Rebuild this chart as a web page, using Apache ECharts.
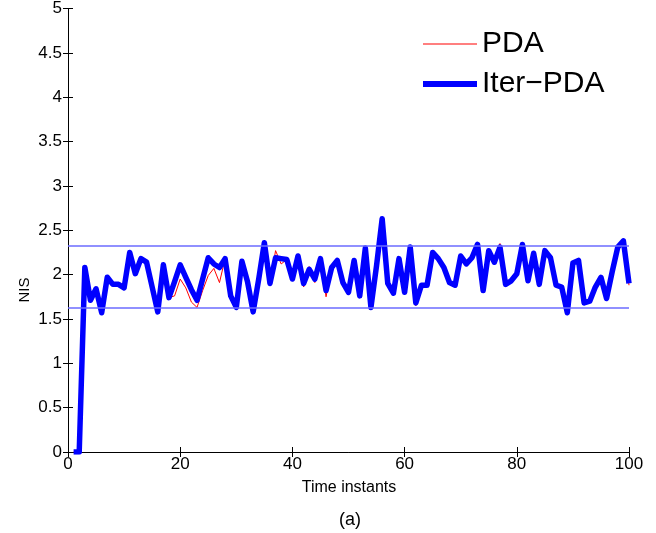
<!DOCTYPE html>
<html>
<head>
<meta charset="utf-8">
<script src="https://cdn.jsdelivr.net/npm/echarts@6/dist/echarts.min.js"></script>
<style>html,body{margin:0;padding:0;background:#fff;}#c{width:656px;height:533px;}</style>
</head>
<body>
<div id="c"></div>
<script>
const timeInstants = [1,2,3,4,5,6,7,8,9,10,11,12,13,14,15,16,17,18,19,20,21,22,23,24,25,26,27,28,29,30,31,32,33,34,35,36,37,38,39,40,41,42,43,44,45,46,47,48,49,50,51,52,53,54,55,56,57,58,59,60,61,62,63,64,65,66,67,68,69,70,71,72,73,74,75,76,77,78,79,80,81,82,83,84,85,86,87,88,89,90,91,92,93,94,95,96,97,98,99,100];
const iterPDA = [0,0,2.08,1.71,1.84,1.57,1.97,1.89,1.89,1.85,2.25,2.01,2.18,2.14,1.86,1.58,2.11,1.74,1.92,2.11,1.97,1.83,1.71,1.95,2.19,2.12,2.08,2.18,1.76,1.63,2.15,1.92,1.58,1.95,2.36,1.90,2.19,2.18,2.17,1.95,2.21,1.90,2.06,1.95,2.18,1.82,2.08,2.16,1.91,1.80,2.16,1.76,2.30,1.63,2.10,2.63,1.90,1.79,2.18,1.80,2.31,1.68,1.88,1.88,2.25,2.18,2.08,1.91,1.88,2.21,2.12,2.19,2.34,1.82,2.27,2.14,2.31,1.89,1.93,2.01,2.34,1.93,2.24,1.89,2.27,2.19,1.88,1.86,1.57,2.13,2.16,1.68,1.70,1.86,1.97,1.73,2.03,2.31,2.38,1.90];
const pda = [0,0,2.08,1.71,1.84,1.57,1.97,1.89,1.89,1.85,2.25,2.01,2.18,2.14,1.86,1.58,2.11,1.74,1.76,1.95,1.85,1.69,1.63,1.82,1.99,2.07,1.91,2.18,1.76,1.63,2.15,1.92,1.58,1.95,2.36,1.90,2.27,2.12,2.17,1.93,2.21,1.86,2.09,1.91,2.18,1.75,2.08,2.16,1.91,1.80,2.16,1.76,2.30,1.63,2.10,2.63,1.90,1.79,2.20,1.80,2.31,1.65,1.88,1.88,2.25,2.18,2.08,1.91,1.88,2.21,2.12,2.19,2.34,1.82,2.29,2.14,2.35,1.89,1.93,2.01,2.34,1.93,2.24,1.89,2.27,2.19,1.88,1.86,1.57,2.13,2.16,1.68,1.70,1.86,1.97,1.71,2.03,2.31,2.38,1.88];
const bounds = [1.63, 2.33];
const seriesNames = ['PDA', 'Iter\u2212PDA'];

const toPairs = (vals) => timeInstants.map((t, i) => [t, vals[i]]);
const font = 'Liberation Sans, Arial, Helvetica, sans-serif';
const chart = echarts.init(document.getElementById('c'), null, {renderer: 'canvas'});
const axisCommon = {
  axisLine: {show: true, lineStyle: {color: '#000', width: 1}},
  axisTick: {show: true, inside: true, length: 5, lineStyle: {color: '#000'}},
  splitLine: {show: false}
};
chart.setOption({
  animation: false,
  backgroundColor: '#fff',
  grid: {left: 68, right: 27, top: 7, bottom: 81, containLabel: false},
  legend: [
    {data: [seriesNames[0]], left: 418, top: 24, icon: 'rect', itemWidth: 54, itemHeight: 1, itemGap: 8,
     textStyle: {fontSize: 30, fontFamily: font, color: '#000', padding: [0,0,0,0]}, selectedMode: false},
    {data: [seriesNames[1]], left: 418, top: 64, icon: 'rect', itemWidth: 54, itemHeight: 6, itemGap: 8,
     textStyle: {fontSize: 30, fontFamily: font, color: '#000', padding: [0,0,0,0]}, selectedMode: false}
  ],
  xAxis: [
    Object.assign({type: 'value', min: 0, max: 100, interval: 20, position: 'bottom',
      axisLabel: {fontSize: 17, fontFamily: font, color: '#000', margin: 4}}, axisCommon),
    Object.assign({type: 'value', min: 0, max: 100, interval: 20, position: 'top',
      axisLabel: {show: false}}, axisCommon)
  ],
  yAxis: [
    Object.assign({type: 'value', min: 0, max: 5, interval: 0.5, position: 'left',
      axisLabel: {fontSize: 17, fontFamily: font, color: '#000', margin: 6}}, axisCommon),
    Object.assign({type: 'value', min: 0, max: 5, interval: 0.5, position: 'right',
      axisLabel: {show: false}}, axisCommon)
  ],
  graphic: [
    {type: 'text', x: 25, y: 290, rotation: Math.PI / 2,
     style: {text: 'NIS', font: '15px ' + font, fill: '#000', textAlign: 'center', textVerticalAlign: 'middle'}},
    {type: 'text', x: 349, y: 488,
     style: {text: 'Time instants', font: '16px ' + font, fill: '#000', textAlign: 'center', textVerticalAlign: 'middle'}},
    {type: 'text', x: 350, y: 520,
     style: {text: '(a)', font: '18px ' + font, fill: '#000', textAlign: 'center', textVerticalAlign: 'middle'}}
  ],
  series: [
    {name: seriesNames[0], type: 'line', data: toPairs(pda), showSymbol: false, symbol: 'none', z: 3,
     itemStyle: {color: '#ff0000'}, lineStyle: {color: '#ff0000', width: 1},
     markLine: {silent: true, symbol: 'none', label: {show: false}, animation: false,
       lineStyle: {color: '#6b6bff', width: 1.5, type: 'solid'},
       data: bounds.map(b => ({yAxis: b}))}},
    {name: seriesNames[1], type: 'line', data: toPairs(iterPDA), showSymbol: false, symbol: 'none', z: 4,
     itemStyle: {color: '#0000ff'}, lineStyle: {color: '#0000ff', width: 5.5, join: 'round'}}
  ]
});
</script>
</body>
</html>
